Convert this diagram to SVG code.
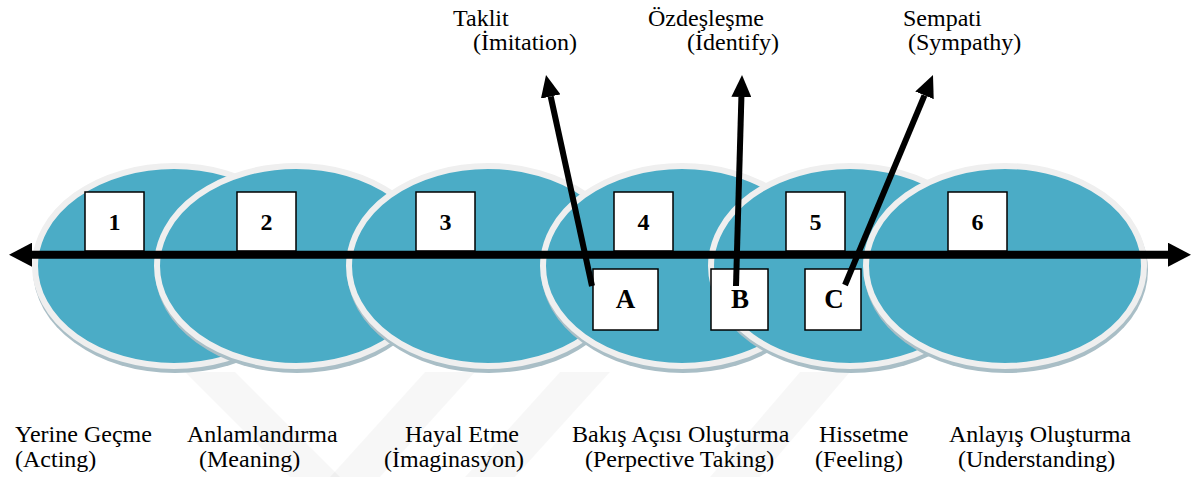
<svg xmlns="http://www.w3.org/2000/svg" width="1191" height="477" viewBox="0 0 1191 477">
  <style>
    .shadow { fill: #a9bec6; }
    .disc { fill: #4bacc6; stroke: #efefef; stroke-width: 6; }
    .box { fill: #ffffff; stroke: #000000; stroke-width: 1.5; }
    text { font-family: 'Liberation Serif', 'DejaVu Serif', 'Times New Roman', Times, serif; fill: #000; }
    .num { font-weight: bold; font-size: 24px; text-anchor: middle; }
    .let { font-weight: bold; font-size: 27px; text-anchor: middle; }
    .lbl { font-size: 24px; }
    .axis { stroke: #000; stroke-width: 8; fill: none; }
    .ray { stroke: #000; stroke-width: 6; fill: none; }
    .wm { fill: #000; opacity: 0.03; }
  </style>
  <defs>
    <marker id="axisHead" viewBox="0 0 23 24" refX="0" refY="12" markerWidth="23" markerHeight="24" markerUnits="userSpaceOnUse" orient="auto-start-reverse">
      <path d="M0,0 L23,12 L0,24 z" fill="#000"/>
    </marker>
    <marker id="rayHead" viewBox="0 0 22 20" refX="0" refY="10" markerWidth="22" markerHeight="20" markerUnits="userSpaceOnUse" orient="auto">
      <path d="M0,0 L22,10 L0,20 z" fill="#000"/>
    </marker>
  </defs>

  <rect width="1191" height="477" fill="#ffffff"/>

  <!-- faint background bands -->
  <g id="backdrop">
    <polygon class="wm" points="185,372 235,372 340,477 290,477"/>
    <polygon class="wm" points="425,372 475,372 380,477 330,477"/>
    <polygon class="wm" points="560,372 610,372 515,477 465,477"/>
    <polygon class="wm" points="800,372 850,372 760,477 710,477"/>
  </g>

  <!-- stage discs, each overlapping the previous one -->
  <g id="stage1">
    <ellipse class="shadow" cx="175" cy="270" rx="142" ry="103"/>
    <ellipse class="disc" cx="174" cy="266" rx="139" ry="100"/>
  </g>
  <g id="stage2">
    <ellipse class="shadow" cx="297" cy="270" rx="142" ry="103"/>
    <ellipse class="disc" cx="296" cy="266" rx="139" ry="100"/>
  </g>
  <g id="stage3">
    <ellipse class="shadow" cx="489" cy="270" rx="142" ry="103"/>
    <ellipse class="disc" cx="488" cy="266" rx="139" ry="100"/>
  </g>
  <g id="stage4">
    <ellipse class="shadow" cx="683" cy="270" rx="142" ry="103"/>
    <ellipse class="disc" cx="682" cy="266" rx="139" ry="100"/>
  </g>
  <g id="stage5">
    <ellipse class="shadow" cx="851" cy="270" rx="142" ry="103"/>
    <ellipse class="disc" cx="850" cy="266" rx="139" ry="100"/>
  </g>
  <g id="stage6">
    <ellipse class="shadow" cx="1006" cy="270" rx="142" ry="103"/>
    <ellipse class="disc" cx="1005" cy="266" rx="139" ry="100"/>
  </g>

  <!-- numbered tags -->
  <g id="tag1"><rect class="box" x="85" y="192" width="59" height="59"/><text class="num" x="114.5" y="230">1</text></g>
  <g id="tag2"><rect class="box" x="237" y="192" width="59" height="59"/><text class="num" x="266.5" y="230">2</text></g>
  <g id="tag3"><rect class="box" x="416" y="192" width="59" height="59"/><text class="num" x="445.5" y="230">3</text></g>
  <g id="tag4"><rect class="box" x="614" y="192" width="59" height="59"/><text class="num" x="643.5" y="230">4</text></g>
  <g id="tag5"><rect class="box" x="786" y="192" width="59" height="59"/><text class="num" x="815.5" y="230">5</text></g>
  <g id="tag6"><rect class="box" x="948" y="192" width="59" height="59"/><text class="num" x="977.5" y="230">6</text></g>

  <!-- lettered tags -->
  <g id="tagA"><rect class="box" x="593" y="269" width="65" height="61"/><text class="let" x="625.5" y="308">A</text></g>
  <g id="tagB"><rect class="box" x="711" y="269" width="57" height="61"/><text class="let" x="740" y="308">B</text></g>
  <g id="tagC"><rect class="box" x="805" y="269" width="56" height="61"/><text class="let" x="834" y="308">C</text></g>

  <!-- connectors -->
  <g id="connectors">
    <line class="axis" x1="32" y1="254.7" x2="1168" y2="254.7" marker-start="url(#axisHead)" marker-end="url(#axisHead)"/>
    <line class="ray" x1="592" y1="286" x2="550.7" y2="96.5" marker-end="url(#rayHead)"/>
    <line class="ray" x1="736" y1="286" x2="741.4" y2="97" marker-end="url(#rayHead)"/>
    <line class="ray" x1="845" y1="285" x2="924.5" y2="95.3" marker-end="url(#rayHead)"/>
  </g>

  <!-- outcome labels -->
  <g id="outcomeA">
    <text class="lbl" x="453" y="26">Taklit</text>
    <text class="lbl" x="473" y="50">(İmitation)</text>
  </g>
  <g id="outcomeB">
    <text class="lbl" x="648" y="26">Özdeşleşme</text>
    <text class="lbl" x="687" y="50">(İdentify)</text>
  </g>
  <g id="outcomeC">
    <text class="lbl" x="903" y="26">Sempati</text>
    <text class="lbl" x="908" y="50">(Sympathy)</text>
  </g>

  <!-- stage labels -->
  <g id="label1">
    <text class="lbl" x="15" y="442">Yerine Geçme</text>
    <text class="lbl" x="15" y="467">(Acting)</text>
  </g>
  <g id="label2">
    <text class="lbl" x="187" y="442">Anlamlandırma</text>
    <text class="lbl" x="199" y="467">(Meaning)</text>
  </g>
  <g id="label3">
    <text class="lbl" x="405" y="442">Hayal Etme</text>
    <text class="lbl" x="384" y="467">(İmaginasyon)</text>
  </g>
  <g id="label4">
    <text class="lbl" x="572" y="442">Bakış Açısı Oluşturma</text>
    <text class="lbl" x="585" y="467">(Perpective Taking)</text>
  </g>
  <g id="label5">
    <text class="lbl" x="819" y="442">Hissetme</text>
    <text class="lbl" x="815" y="467">(Feeling)</text>
  </g>
  <g id="label6">
    <text class="lbl" x="949" y="442">Anlayış Oluşturma</text>
    <text class="lbl" x="958" y="467">(Understanding)</text>
  </g>
</svg>
